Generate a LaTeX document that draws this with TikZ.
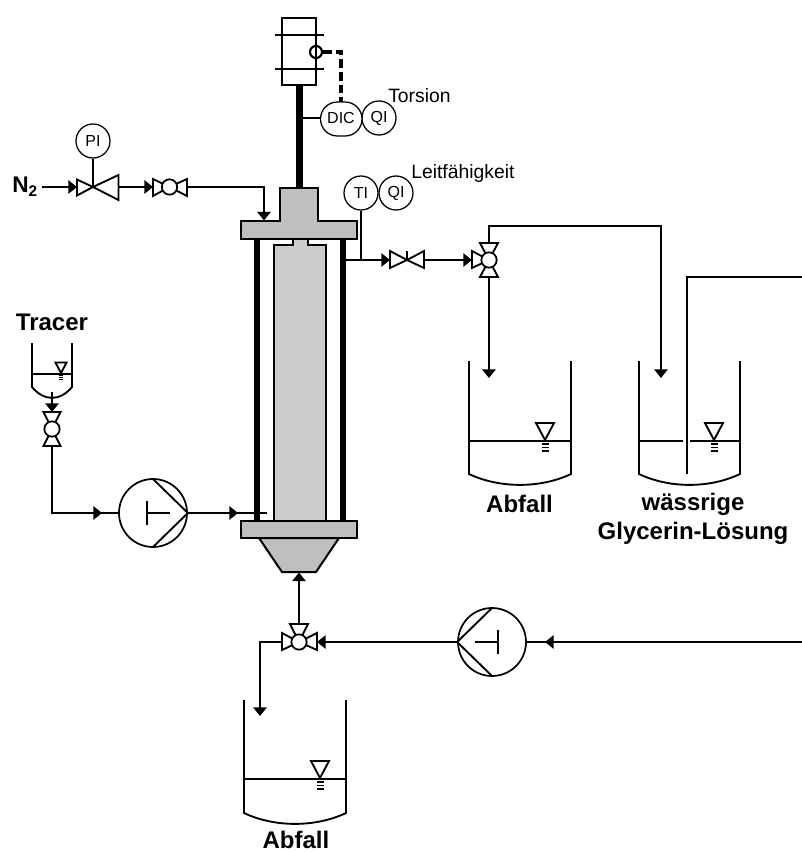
\documentclass[tikz,border=0pt]{standalone}
\usepackage{fontspec}
\setmainfont{Liberation Sans}
\usetikzlibrary{arrows.meta,calc}
\definecolor{flangegrey}{HTML}{BFBFBF}
\definecolor{coregrey}{HTML}{CCCCCC}
\tikzset{
  pipe/.style={line width=1.4pt,line join=miter,draw=black},
  flow/.style={pipe,-{Triangle[length=6.5pt,width=10pt]}},
  thin line/.style={line width=0.85pt,draw=black},
  shaftline/.style={line width=4.7pt,draw=black},
  body/.style={line width=1.5pt,draw=black,line join=miter},
  vtri/.style={line width=1.4pt,draw=black,fill=white,line join=miter},
  ball/.style={circle,draw=black,line width=1.3pt,fill=white,minimum size=11.5pt,inner sep=0pt},
  pumpc/.style={circle,draw=black,line width=1.3pt,fill=white,minimum size=51pt,inner sep=0pt},
  instr/.style={circle,draw=black,line width=0.95pt,fill=white,minimum size=25.5pt,inner sep=0pt,font=\fontsize{12}{14}\selectfont},
  small/.style={font=\fontsize{14.5}{16}\selectfont,inner sep=0pt},
  boldtxt/.style={font=\fontsize{18}{21}\selectfont\bfseries,inner sep=0pt,anchor=base},
}
\newcommand{\tankshape}[5]{% left, right, top, level, corner
  \draw[pipe] (#1,#3) -- (#1,#5) .. controls ({#1+(#2-#1)*0.3},{#5+14.5}) and ({#1+(#2-#1)*0.7},{#5+14.5}) .. (#2,#5) -- (#2,#3);
}
\newcommand{\levelmark}[3]{% tip x, tip y, scale
  \draw[vtri,fill=none] ({#1-9*#3},{#2-17*#3}) -- ({#1+9*#3},{#2-17*#3}) -- (#1,#2) -- cycle;
  \draw[line width=0.8pt] ({#1-3.5*#3},{#2+4*#3}) -- ({#1+3.5*#3},{#2+4*#3})
    ({#1-3.5*#3},{#2+7.5*#3}) -- ({#1+3.5*#3},{#2+7.5*#3})
    ({#1-3.5*#3},{#2+11*#3}) -- ({#1+3.5*#3},{#2+11*#3});
}
\begin{document}
\begin{tikzpicture}[x=0.75pt,y=-0.75pt]
\useasboundingbox (0,0) rectangle (802,852);

% ---- column
\draw[shaftline] (299.5,85) -- (299.5,190);
\draw[body,fill=coregrey] (292.5,239.5) -- (292.5,245) -- (274,245) -- (274,521) -- (325.5,521) -- (325.5,245) -- (308,245) -- (308,239.5);
\draw[line width=4.6pt] (257,239) -- (257,521) (343,239) -- (343,521);
\draw[body,fill=flangegrey] (241,221) -- (280,221) -- (280,188) -- (318,188) -- (318,221) -- (357,221) -- (357,239) -- (241,239) -- cycle;
\draw[body,fill=flangegrey] (259,538) -- (339,538) -- (316,572) -- (282,572) -- cycle;
\draw[body,fill=flangegrey] (241,521) rectangle (357,538);
\coordinate (flangeIn) at (264,220.5);
\coordinate (colOut) at (345,260);
\coordinate (colIn) at (267,513);
\coordinate (coneIn) at (299,572.5);

% ---- motor
\draw[body] (282,18) rectangle (316,85.5);
\draw[pipe] (275,35) -- (324,35) (275,69) -- (324,69);
\node[circle,draw=black,line width=1.6pt,minimum size=9pt,inner sep=0pt] (motorC) at (316,52) {};

% ---- instruments
\node[instr] (PI) at (93,141) {PI};
\node[instr] (QIa) at (379,118) {QI};
\draw[line width=0.95pt,fill=white,rounded corners=12.7pt] (320.5,102) rectangle (362,136);
\node[font=\fontsize{12}{14}\selectfont,inner sep=0pt] (DIC) at (341,118) {DIC};
\node[instr] (TI) at (361,193) {TI};
\node[instr] (QIb) at (396,193) {QI};
\node[small,anchor=west] (torsion) at (388,96) {Torsion};
\node[small,anchor=west] (leit) at (411,174) {Leitfähigkeit};
\coordinate (shaftTap) at (302,118);
\coordinate (dicL) at (320.5,118);
\coordinate (dicT) at (341,102);
\draw[thin line] (shaftTap) -- (dicL);
\draw[line width=2.4pt,dash pattern=on 6.5pt off 3pt] (motorC.east) -- (341,52) -- (dicT);

% ---- N2 line
\node[inner sep=0pt,anchor=base west,font=\fontsize{17}{19}\selectfont\bfseries] (N2) at (12,193) {N\raisebox{-0.3ex}{\fontsize{11.5}{12}\selectfont 2}};
\coordinate (v1) at (93,187);
\coordinate (v1L) at (77,187);
\coordinate (v1R) at (118.5,187);
\coordinate (n2start) at (42,187);
\draw[vtri] (v1) -- (77,179.5) -- (77,195.5) -- cycle;
\draw[vtri] (v1) -- (118.5,175) -- (118.5,200) -- cycle;
\draw[thin line] (PI) -- (v1);
\draw[flow] (n2start) -- (v1L);
\coordinate (b1) at (169.5,187);
\coordinate (b1L) at (153,187);
\coordinate (b1R) at (187,187);
\draw[vtri] (b1) -- (153,179) -- (153,196) -- cycle;
\draw[vtri] (b1) -- (187,179) -- (187,196) -- cycle;
\node[ball] (b1c) at (b1) {};
\draw[flow] (v1R) -- (b1L);
\draw[flow] (b1R) -| (flangeIn);

% ---- outlet line
\coordinate (v3) at (407,260);
\coordinate (v3L) at (390,260);
\coordinate (v3R) at (424,260);
\draw[vtri] (v3) -- (390,251) -- (390,268) -- cycle;
\draw[vtri] (v3) -- (424,251) -- (424,268) -- cycle;
\draw[line width=2.2pt] (407,251) -- (v3);
\coordinate (tiTap) at (361,260);
\draw[thin line] (TI) -- (tiTap);
\draw[flow] (colOut) -- (v3L);

\coordinate (t1) at (489,260);
\coordinate (t1L) at (472,260);
\coordinate (t1T) at (489,243);
\coordinate (t1B) at (489,277);
\draw[vtri] (t1) -- (472,251) -- (472,268) -- cycle;
\draw[vtri] (t1) -- (480,243) -- (498,243) -- cycle;
\draw[vtri] (t1) -- (480,277) -- (498,277) -- cycle;
\node[ball] (t1c) at (t1) {};
\draw[flow] (v3R) -- (t1L);

% ---- tanks on the right
\tankshape{469}{571}{361}{441}{474}
\draw[pipe] (469,441) -- (571,441);
\levelmark{545}{440}{1}
\coordinate (tankAin) at (489,378);
\draw[flow] (t1B) -- (tankAin);

\tankshape{639}{740}{361}{441}{474}
\draw[pipe] (639,441) -- (683,441) (690,441) -- (740,441);
\levelmark{714}{440}{1}
\coordinate (tankBin) at (661,378);
\coordinate (bend) at (661,226);
\draw[flow] (t1T) |- (bend) -- (tankBin);
\coordinate (dipEnd) at (687,474);
\coordinate (rightEdgeTop) at (802,277);
\draw[pipe] (dipEnd) |- (rightEdgeTop);

\node[boldtxt] (abfallA) at (519.5,512.7) {Abfall};
\node[boldtxt] (glyA) at (693,510.7) {wässrige};
\node[boldtxt] (glyB) at (693,539.3) {Glycerin-Lösung};

% ---- tracer
\node[boldtxt] (tracer) at (52,330) {Tracer};
\tankshape{32}{72}{343}{374}{387}
\draw[pipe] (32,374) -- (72,374);
\levelmark{61}{373}{0.62}
\coordinate (trOut) at (52,392);
\coordinate (b2) at (52,429);
\coordinate (b2T) at (52,412);
\coordinate (b2B) at (52,446);
\draw[vtri] (b2) -- (43.5,412) -- (60.5,412) -- cycle;
\draw[vtri] (b2) -- (43.5,446) -- (60.5,446) -- cycle;
\node[ball] (b2c) at (b2) {};
\draw[flow] (trOut) -- (b2T);

% ---- pump 1
\node[pumpc] (p1) at (153,513) {};
\coordinate (p1T) at (153,479);
\coordinate (p1B) at (153,547);
\draw[pipe] (p1T) -- (p1.east) -- (p1B);
\draw[pipe] (147,501) -- (147,525) (147,513) -- (170,513);
\coordinate (a1) at (102,513);
\coordinate (a2) at (238,513);
\draw[pipe] (b2B) |- (p1.west);
\draw[flow] (b2B) |- (a1);
\draw[pipe] (p1.east) -- (colIn);
\draw[flow] (p1.east) -- (a2);

% ---- bottom line
\coordinate (t2) at (299,642);
\coordinate (t2L) at (282,642);
\coordinate (t2R) at (317,642);
\coordinate (t2T) at (299,624);
\draw[vtri] (t2) -- (282,633) -- (282,650) -- cycle;
\draw[vtri] (t2) -- (317,633) -- (317,650) -- cycle;
\draw[vtri] (t2) -- (290,624) -- (308,624) -- cycle;
\node[ball] (t2c) at (t2) {};
\draw[flow] (t2T) -- (coneIn);

\node[pumpc] (p2) at (492,642) {};
\coordinate (p2T) at (492,608);
\coordinate (p2B) at (492,676);
\draw[pipe] (p2T) -- (p2.west) -- (p2B);
\draw[pipe] (498,630) -- (498,654) (475,642) -- (498,642);
\coordinate (rightEdgeBot) at (802,642);
\coordinate (a3) at (545,642);
\draw[pipe] (rightEdgeBot) -- (p2.east);
\draw[flow] (rightEdgeBot) -- (a3);
\draw[flow] (p2.west) -- (t2R);

\tankshape{244}{346}{700}{779}{813}
\draw[pipe] (244,779) -- (346,779);
\levelmark{320}{778}{1}
\coordinate (tankCin) at (260,716);
\draw[flow] (t2L) -| (tankCin);
\node[boldtxt] (abfallB) at (296,848) {Abfall};
\end{tikzpicture}
\end{document}
